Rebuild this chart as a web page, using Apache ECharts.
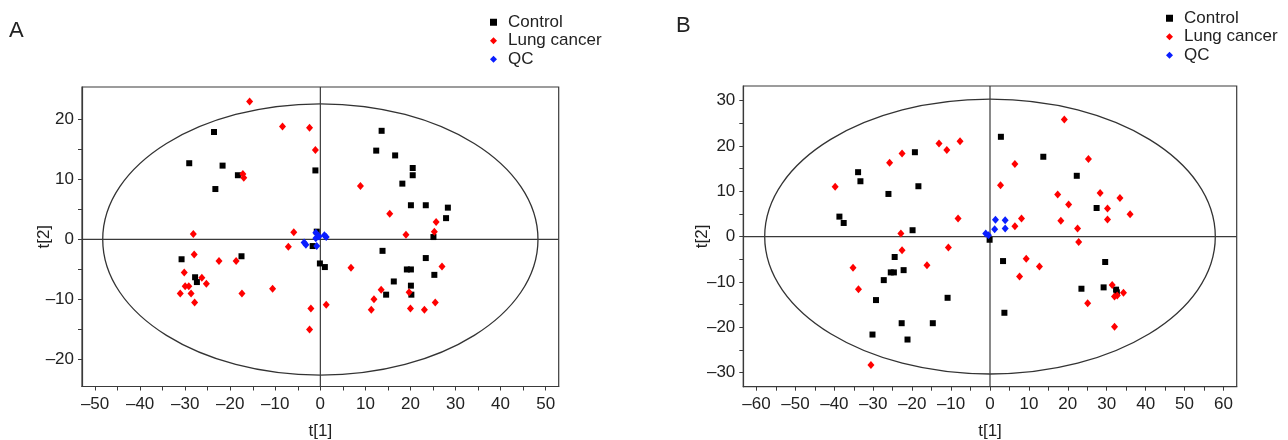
<!DOCTYPE html>
<html>
<head>
<meta charset="utf-8">
<script src="https://cdn.jsdelivr.net/npm/echarts@6/dist/echarts.min.js"></script>
<style>html,body{margin:0;padding:0;background:#fff}#c{width:1288px;height:440px}</style>
</head>
<body>
<div id="c"></div>
<script>
// ---------- Data ----------
const controlA = [[-23.6,17.9],[-29.1,12.7],[-21.7,12.3],[-18.3,10.7],[-23.3,8.4],[-1.1,11.5],[13.6,18.1],[12.4,14.8],[16.6,14.0],[20.5,11.9],[20.5,10.7],[18.2,9.3],[20.1,5.7],[23.4,5.7],[28.3,5.3],[27.9,3.55],[25.1,0.4],[-30.8,-3.3],[-17.5,-2.8],[-27.8,-6.3],[-27.4,-7.1],[-1.7,-1.1],[-0.1,-4.0],[1.0,-4.6],[-0.8,1.3],[13.8,-1.9],[23.4,-3.1],[19.2,-5.0],[20.1,-5.0],[25.3,-5.9],[16.3,-7.0],[20.1,-7.7],[20.2,-9.2],[14.6,-9.2]];
const lungA = [[-15.7,23.0],[-8.4,18.8],[-2.4,18.6],[-1.1,14.9],[-17.2,10.9],[-17.0,10.3],[-28.2,0.9],[-5.9,1.2],[-7.1,-1.2],[8.9,8.9],[15.4,4.3],[25.7,2.9],[25.3,1.3],[19.0,0.8],[-28.0,-2.5],[-22.5,-3.6],[-18.7,-3.6],[-30.2,-5.5],[-26.3,-6.4],[-25.3,-7.4],[-30.0,-7.8],[-29.2,-7.8],[-31.1,-9.0],[-28.7,-9.0],[-27.9,-10.5],[-17.4,-9.0],[-10.6,-8.2],[1.3,-10.9],[-2.1,-11.5],[-2.4,-15.0],[6.8,-4.7],[27.0,-4.5],[13.5,-8.4],[19.7,-8.8],[11.9,-9.95],[11.3,-11.7],[20.0,-11.5],[23.1,-11.7],[25.5,-10.5]];
const qcA = [[-3.6,-0.5],[-3.2,-0.9],[-1.0,1.1],[-1.0,0.2],[-0.8,-1.1],[0.9,0.7],[1.3,0.4],[-0.3,0.5]];

const controlB = [[-33.9,14.2],[-33.3,12.2],[-38.7,4.4],[-37.6,3.0],[-19.3,18.6],[-26.1,9.4],[-18.4,11.1],[-19.9,1.4],[-0.1,-0.7],[2.8,22.0],[13.7,17.6],[22.3,13.4],[27.4,6.3],[-24.5,-4.5],[-25.5,-7.9],[-24.7,-7.9],[-22.2,-7.4],[-27.3,-9.6],[-29.3,-14.0],[-10.9,-13.5],[-22.7,-19.1],[-14.7,-19.1],[-30.2,-21.6],[-21.2,-22.7],[3.35,-5.4],[29.6,-5.6],[23.5,-11.5],[29.2,-11.2],[32.4,-11.7],[32.6,-12.3],[3.7,-16.8]];
const lungB = [[-39.8,11.0],[-25.8,16.3],[-22.6,18.3],[-13.1,20.5],[-11.1,19.1],[-7.7,21.0],[-8.2,4.0],[-22.9,0.7],[19.1,25.8],[6.4,16.0],[25.3,17.1],[2.7,11.3],[17.4,9.3],[28.3,9.6],[20.2,7.1],[33.4,8.5],[30.2,6.2],[30.2,3.75],[36.0,4.9],[18.2,3.5],[22.5,1.8],[22.8,-1.2],[8.1,4.0],[6.4,2.3],[-22.6,-3.0],[-10.7,-2.4],[-35.2,-6.9],[-16.2,-6.3],[-33.8,-11.6],[-30.6,-28.3],[9.3,-4.9],[12.7,-6.6],[7.6,-8.8],[31.4,-10.7],[32.0,-13.2],[32.7,-13.0],[34.3,-12.4],[25.1,-14.7],[32.0,-19.9]];
const qcB = [[-1.1,0.7],[1.4,3.7],[1.2,1.6],[3.9,3.6],[3.9,1.8],[-0.4,0.3]];

// Hotelling T2 ellipse semi-axes (t[1], t[2])
const ellipseA = [48.3, 22.6];
const ellipseB = [57.9, 30.3];

// Axis ranges and tick labels
const xRangeA = [-52.9, 52.9];
const yRangeA = [-24.5, 25.4];
const xRangeB = [-63.4, 63.4];
const yRangeB = [-33.1, 33.2];
const xTicksA = [-50,-45,-40,-35,-30,-25,-20,-15,-10,-5,0,5,10,15,20,25,30,35,40,45,50];
const xLabelsA = [-50,-40,-30,-20,-10,0,10,20,30,40,50];
const yTicksA = [-20,-15,-10,-5,0,5,10,15,20];
const yLabelsA = [-20,-10,0,10,20];
const xTicksB = [-60,-55,-50,-45,-40,-35,-30,-25,-20,-15,-10,-5,0,5,10,15,20,25,30,35,40,45,50,55,60];
const xLabelsB = [-60,-50,-40,-30,-20,-10,0,10,20,30,40,50,60];
const yTicksB = [-30,-25,-20,-15,-10,-5,0,5,10,15,20,25,30];
const yLabelsB = [-30,-20,-10,0,10,20,30];

const seriesNames = ['Control', 'Lung cancer', 'QC'];
const panelTitles = ['A', 'B'];
const axisNames = ['t[1]', 't[2]'];

// ---------- Styling ----------
const FONT = 'Liberation Sans, Arial, Helvetica, sans-serif';
const INK = '#222';
const LINE = '#3a3a3a';
const fmt = v => (v < 0 ? '\u2013' + Math.abs(v) : String(v));

function xAxis(gi, range, ticks, labels) {
  return {
    type: 'value', gridIndex: gi, min: range[0], max: range[1],
    name: axisNames[0], nameLocation: 'middle', nameGap: 36, nameMoveOverlap: false,
    nameTextStyle: {fontFamily: FONT, fontSize: 17, color: INK},
    axisLine: {show: true, onZero: false, lineStyle: {color: LINE, width: 1.2}},
    axisTick: {show: true, length: 4, inside: false, customValues: ticks, lineStyle: {color: LINE, width: 1}},
    axisLabel: {show: true, margin: 9, customValues: labels, formatter: fmt, fontFamily: FONT, fontSize: 17, color: INK},
    splitLine: {show: false}
  };
}
function yAxis(gi, range, ticks, labels, gap) {
  return {
    type: 'value', gridIndex: gi, min: range[0], max: range[1],
    name: axisNames[1], nameLocation: 'middle', nameGap: gap, nameRotate: 90, nameMoveOverlap: false,
    nameTextStyle: {fontFamily: FONT, fontSize: 17, color: INK},
    axisLine: {show: true, onZero: false, lineStyle: {color: LINE, width: 1.2}},
    axisTick: {show: true, length: 4, inside: false, customValues: ticks, lineStyle: {color: LINE, width: 1}},
    axisLabel: {show: true, margin: 8, customValues: labels, formatter: fmt, fontFamily: FONT, fontSize: 17, color: INK},
    splitLine: {show: false}
  };
}

function frameSeries(gi, ell) {
  return {
    type: 'custom', xAxisIndex: gi, yAxisIndex: gi, z: 1, silent: true,
    data: [[0, 0, ell[0], ell[1]]],
    renderItem: function (params, api) {
      const c = api.coord([api.value(0), api.value(1)]);
      const s = api.size([api.value(2), api.value(3)]);
      const cs = params.coordSys;
      const st = {stroke: LINE, lineWidth: 1.2, fill: null};
      return {
        type: 'group',
        children: [
          {type: 'ellipse', shape: {cx: c[0], cy: c[1], rx: s[0], ry: s[1]}, style: {stroke: '#333', lineWidth: 1.3, fill: null}},
          {type: 'line', shape: {x1: cs.x, y1: c[1], x2: cs.x + cs.width, y2: c[1]}, style: st},
          {type: 'line', shape: {x1: c[0], y1: cs.y, x2: c[0], y2: cs.y + cs.height}, style: st}
        ]
      };
    }
  };
}

function scatter(gi, name, data, symbol, size, color) {
  return {
    type: 'scatter', name: name, xAxisIndex: gi, yAxisIndex: gi, z: 3,
    data: data, symbol: symbol, symbolSize: size,
    itemStyle: {color: color, opacity: 1}, silent: true
  };
}

function legend(left, top) {
  return {
    orient: 'vertical', left: left, top: top, padding: 0,
    itemWidth: 7, itemHeight: 7, itemGap: 0, selectedMode: false,
    data: [{name: seriesNames[0], icon: 'rect'}, {name: seriesNames[1], icon: 'diamond'}, {name: seriesNames[2], icon: 'diamond'}],
    textStyle: {fontFamily: FONT, fontSize: 17, color: INK, lineHeight: 18.5, padding: [0, 0, 0, 6]}
  };
}

const chart = echarts.init(document.getElementById('c'), null, {renderer: 'canvas'});
chart.setOption({
  animation: false,
  backgroundColor: '#fff',
  textStyle: {fontFamily: FONT},
  title: [
    {text: panelTitles[0], left: 9, top: 20, padding: 0, textStyle: {fontFamily: FONT, fontSize: 22, fontWeight: 'normal', color: INK}},
    {text: panelTitles[1], left: 676, top: 15, padding: 0, textStyle: {fontFamily: FONT, fontSize: 22, fontWeight: 'normal', color: INK}}
  ],
  legend: [legend(490, 13), legend(1166, 9)],
  grid: [
    {left: 82, top: 87, width: 476.7, height: 299.5, show: true, borderColor: LINE, borderWidth: 1.2, containLabel: false, outerBoundsMode: 'none'},
    {left: 743.3, top: 86, width: 493.4, height: 300.7, show: true, borderColor: LINE, borderWidth: 1.2, containLabel: false, outerBoundsMode: 'none'}
  ],
  xAxis: [xAxis(0, xRangeA, xTicksA, xLabelsA), xAxis(1, xRangeB, xTicksB, xLabelsB)],
  yAxis: [yAxis(0, yRangeA, yTicksA, yLabelsA, 29), yAxis(1, yRangeB, yTicksB, yLabelsB, 32)],
  series: [
    frameSeries(0, ellipseA),
    scatter(0, seriesNames[0], controlA, 'rect', 6, '#000'),
    scatter(0, seriesNames[1], lungA, 'diamond', [7, 8], '#ff0000'),
    scatter(0, seriesNames[2], qcA, 'diamond', [7, 8], '#0a1eff'),
    frameSeries(1, ellipseB),
    scatter(1, seriesNames[0], controlB, 'rect', 6, '#000'),
    scatter(1, seriesNames[1], lungB, 'diamond', [7, 8], '#ff0000'),
    scatter(1, seriesNames[2], qcB, 'diamond', [7, 8], '#0a1eff')
  ]
});
</script>
</body>
</html>
